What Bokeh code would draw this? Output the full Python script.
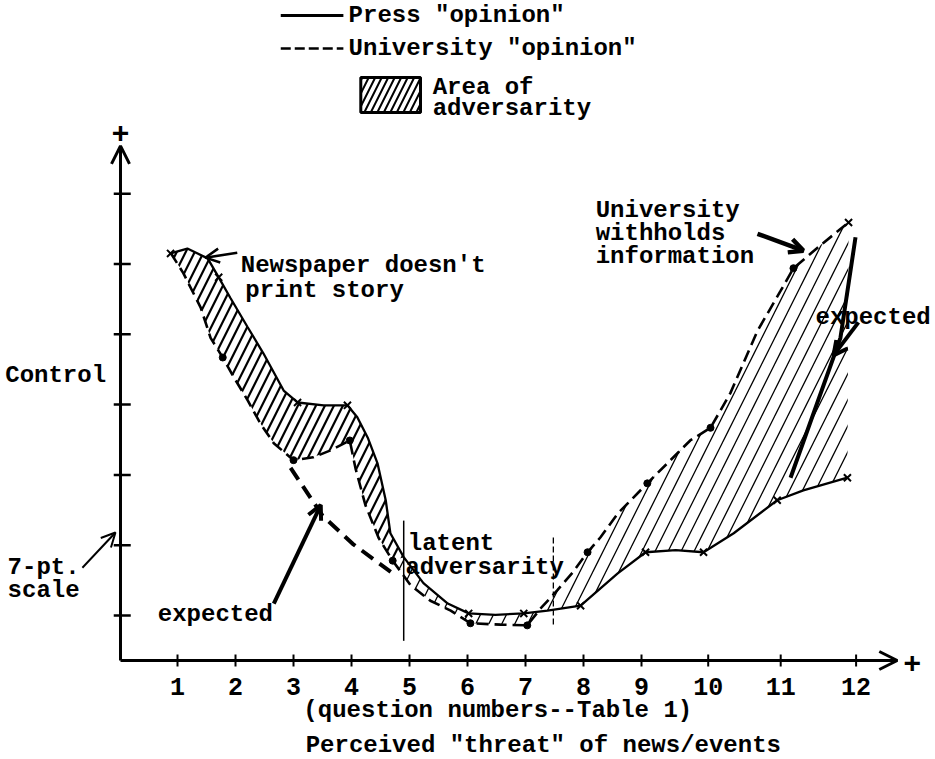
import numpy as np
from bokeh.plotting import figure
from bokeh.models import Label, Arrow, OpenHead, Range1d
from bokeh.core.properties import value
from bokeh.embed import file_html
from bokeh.resources import INLINE

# ---------------- data (question number, 7-pt control scale) ----------------
press_x = [0.88, 1.17, 1.52, 1.71, 1.91, 2.21, 2.48, 2.83, 3.07, 3.52, 3.93, 4.10, 4.28, 4.45,
           4.59, 4.67, 4.90, 5.24, 5.66, 6.02, 6.48, 6.97, 7.38, 7.95, 8.59, 9.07, 9.59, 10.07,
           10.59, 11.34, 11.79, 12.55]
press_y = [6.15, 6.22, 6.08, 5.81, 5.52, 5.10, 4.73, 4.20, 4.03, 3.99, 3.99, 3.82, 3.53, 3.16,
           2.64, 2.17, 1.83, 1.46, 1.17, 1.03, 1.01, 1.03, 1.07, 1.14, 1.60, 1.90, 1.93, 1.90,
           2.17, 2.64, 2.78, 2.96]
press_mark_idx = [0, 3, 8, 10, 19, 21, 23, 25, 27, 29, 31]

univ_x = [0.88, 1.10, 1.40, 1.57, 1.78, 1.97, 2.21, 2.43, 2.66, 3.00, 3.34, 3.64, 3.97, 4.07,
          4.24, 4.47, 4.71, 5.02, 5.36, 5.71, 6.05, 6.57, 7.03, 7.26, 7.55, 7.81, 8.07, 8.29,
          8.59, 9.10, 9.50, 9.84, 10.19, 10.53, 11.00, 11.40, 11.62, 12.12, 12.57]
univ_y = [6.16, 5.87, 5.38, 4.95, 4.67, 4.39, 4.06, 3.73, 3.45, 3.21, 3.25, 3.35, 3.49, 3.09,
          2.57, 2.10, 1.78, 1.43, 1.21, 1.07, 0.89, 0.87, 0.86, 1.10, 1.36, 1.61, 1.90, 2.11,
          2.45, 2.88, 3.21, 3.49, 3.67, 4.16, 5.05, 5.62, 5.94, 6.29, 6.59]
univ_dot_idx = [4, 9, 12, 16, 20, 22, 26, 29, 32, 36]
univ_end_idx = [38]

cross_press, cross_univ = 16, 16   # where the two opinions meet (question 5)

expected_left_x = [2.95, 3.50, 4.02, 4.76]
expected_left_y = [3.10, 2.42, 2.02, 1.57]
expected_right_x = [12.69, 12.43, 11.57]
expected_right_y = [6.38, 4.95, 2.96]

latent_x = [4.90, 7.48]
latent_top = [2.35, 2.11]
latent_bottom = [0.64, 0.86]

x_tick_pos = [1, 2, 3, 4, 5, 6, 7, 8, 9, 10.15, 11.4, 12.7]
x_tick_labels = ["1", "2", "3", "4", "5", "6", "7", "8", "9", "10", "11", "12"]
y_tick_pos = [1, 2, 3, 4, 5, 6, 7]

# ---------------- layout / style ----------------
FONT = "Liberation Mono"
FS = "24px"
WEIGHT = "bold"
X0, Y0 = 0.017, 0.36          # where the hand-drawn axes cross
X_END, Y_END = 13.41, 7.68    # arrow tips of the axes

p = figure(width=935, height=759, output_backend="svg", toolbar_location=None, title=None,
           x_range=Range1d(-2.052, 14.069), y_range=Range1d(-1.048, 9.748),
           x_axis_location=None, y_axis_location=None,
           min_border=0, min_border_left=0, min_border_right=0,
           min_border_top=0, min_border_bottom=0)
p.grid.visible = False
p.outline_line_color = None
p.background_fill_color = "white"
p.border_fill_color = "white"

# ---- axes (drawn on the plot's own scales) ----
p.segment(x0=[X0, X0], y0=[Y0, Y0], x1=[X0, X_END - 0.05], y1=[Y_END - 0.05, Y0],
          line_width=3, line_color="black")
p.add_layout(Arrow(end=OpenHead(size=18, line_width=3), x_start=X0, y_start=Y_END - 0.3,
                   x_end=X0, y_end=Y_END, line_width=3))
p.add_layout(Arrow(end=OpenHead(size=18, line_width=3), x_start=X_END - 0.3, y_start=Y0,
                   x_end=X_END, y_end=Y0, line_width=3))
p.scatter(x=[X0 + 0.03] * len(y_tick_pos), y=y_tick_pos, marker="dash", size=17,
          line_width=2.5, line_color="black")
p.scatter(x=x_tick_pos, y=[Y0] * len(x_tick_pos), marker="dash", angle=np.pi / 2, size=12,
          line_width=2, line_color="black")
p.text(x=x_tick_pos, y=[-0.01] * len(x_tick_pos), text=x_tick_labels,
       text_font=value(FONT), text_font_size="25px", text_font_style=WEIGHT,
       text_align="center", text_baseline="middle", text_color="black")
p.text(x=[X0, 13.67], y=[7.87, 0.33], text=["+", "+"], text_font=value(FONT),
       text_font_style="bold", text_font_size="30px", text_align="center",
       text_baseline="middle", text_color="black")

# ---- hatched area of adversarity ----
left_xs = press_x[:cross_press + 1] + univ_x[:cross_univ + 1][::-1]
left_ys = press_y[:cross_press + 1] + univ_y[:cross_univ + 1][::-1]
right_xs = press_x[cross_press:] + univ_x[cross_univ:][::-1]
right_ys = press_y[cross_press:] + univ_y[cross_univ:][::-1]
p.patch(left_xs, left_ys, fill_alpha=0, line_color=None, hatch_pattern="/",
        hatch_scale=18, hatch_weight=2.2, hatch_color="black")
p.patch(right_xs, right_ys, fill_alpha=0, line_color=None, hatch_pattern="/",
        hatch_scale=26, hatch_weight=1.3, hatch_color="black")

# ---- curves ----
p.line(press_x, press_y, line_width=2.3, line_color="black")
p.line(univ_x, univ_y, line_width=2.6, line_color="black", line_dash="12 6")
p.line(expected_left_x, expected_left_y, line_width=4, line_color="black", line_dash="14 8")
p.line(expected_right_x, expected_right_y, line_width=4, line_color="black")
p.scatter([press_x[i] for i in press_mark_idx], [press_y[i] for i in press_mark_idx],
          marker="x", size=10, line_width=2, line_color="black")
p.scatter([univ_x[i] for i in univ_dot_idx], [univ_y[i] for i in univ_dot_idx],
          marker="circle", size=7, fill_color="black", line_color="black")
p.scatter([univ_x[i] for i in univ_end_idx], [univ_y[i] for i in univ_end_idx],
          marker="x", size=10, line_width=2, line_color="black")
p.segment(x0=latent_x[:1], y0=latent_top[:1], x1=latent_x[:1], y1=latent_bottom[:1],
          line_width=1.5, line_color="black")
p.segment(x0=latent_x[1:], y0=latent_top[1:], x1=latent_x[1:], y1=latent_bottom[1:],
          line_width=1.3, line_color="black", line_dash="6 3")

# ---- legend (hand-made, as in the original) ----
p.segment(x0=[2.78], y0=[9.535], x1=[3.86], y1=[9.535], line_width=3, line_color="black")
p.segment(x0=[2.78], y0=[9.065], x1=[3.86], y1=[9.065], line_width=2.5,
          line_color="black", line_dash="10 4")
p.quad(left=[4.16], right=[5.19], bottom=[8.155], top=[8.653], fill_alpha=0,
       line_color="black", line_width=3, hatch_pattern="/", hatch_scale=13,
       hatch_weight=2, hatch_color="black")

texts = [
    (3.95, 9.535, 'Press "opinion"'),
    (3.95, 9.065, 'University "opinion"'),
    (5.40, 8.511, "Area of"),
    (5.40, 8.212, "adversarity"),
    (2.09, 5.979, "Newspaper doesn't"),
    (2.17, 5.623, "print story"),
    (-1.97, 4.414, "Control"),
    (-1.93, 1.683, "7-pt."),
    (-1.93, 1.356, "scale"),
    (0.66, 1.014, "expected"),
    (4.97, 2.024, "latent"),
    (4.93, 1.683, "adversarity"),
    (8.21, 6.761, "University"),
    (8.21, 6.434, "withholds"),
    (8.21, 6.107, "information"),
    (12.0, 5.239, "expected"),
    (3.17, -0.351, "(question numbers--Table 1)"),
    (3.21, -0.849, 'Perceived "threat" of news/events'),
]
for x, y, t in texts:
    p.add_layout(Label(x=x, y=y, text=t, text_font=FONT, text_font_size=FS,
                       text_font_style=WEIGHT, text_align="left",
                       text_baseline="middle", text_color="black"))

# ---- pointer arrows ----
arrows = [
    (2.03, 6.16, 1.48, 6.09, 2.5),    # newspaper doesn't print story
    (11.0, 6.43, 11.79, 6.19, 4.5),   # university withholds information
    (12.74, 5.17, 12.31, 4.70, 4),    # expected (right)
    (2.66, 1.17, 3.47, 2.57, 4),      # expected (left)
    (-0.64, 1.68, -0.07, 2.18, 2),    # 7-pt. scale
]
for xs, ys, xe, ye, w in arrows:
    p.add_layout(Arrow(end=OpenHead(size=14, line_width=w), x_start=xs, y_start=ys,
                       x_end=xe, y_end=ye, line_width=w))

open("out.html", "w").write(file_html(p, INLINE))
